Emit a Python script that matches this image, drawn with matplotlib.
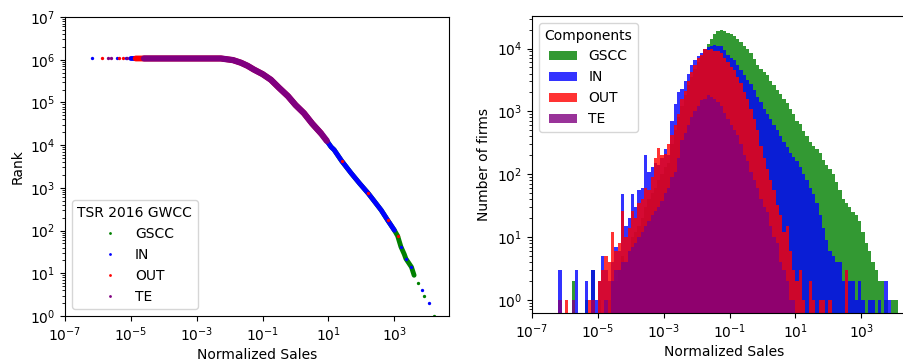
import numpy as np
import matplotlib
matplotlib.use('Agg')
import matplotlib.pyplot as plt
from matplotlib.lines import Line2D
from matplotlib.ticker import NullLocator

components = ['GSCC', 'IN', 'OUT', 'TE']
colors = ['green', 'blue', 'red', 'purple']

# --- rank plot (left) : connected runs and isolated points, per component
gscc_sales = [1e-4, 1e-3, 5.4e-3, 1.26e-2, 2.2e-2, 3.5e-2, 5.4e-2, 0.1, 0.178, 0.316, 0.59, 1.0, 1.8,
              3.2, 5.9, 8.9, 12, 14.8, 25, 49, 89, 162, 250, 400, 630, 1000, 1260, 1580, 2000, 2240, 3310, 3980]
gscc_rank = [1.07e6, 1.07e6, 1.07e6, 9.8e5, 8.5e5, 7.2e5, 5.9e5, 4.6e5, 3.4e5, 2.2e5, 1.4e5, 8.7e4, 5.6e4,
             3.2e4, 1.9e4, 1.26e4, 9.1e3, 7.8e3, 4.3e3, 2.2e3, 1.26e3, 740, 480, 300, 174, 102, 75, 42, 28, 22, 14, 9]
gscc_sales_pts = [5370, 8130, 15500]
gscc_rank_pts = [6, 3, 1]

in_sales = [1e-5, 1e-4, 1e-3, 5.4e-3, 1.26e-2, 2.2e-2, 3.5e-2, 5.4e-2, 0.1, 0.178, 0.316, 0.59, 1.0, 1.8,
            3.2, 5.9, 8.9, 12, 14.8, 25, 49, 89, 162, 250, 400, 630, 1000]
in_rank = [1.07e6, 1.07e6, 1.07e6, 1.07e6, 9.8e5, 8.5e5, 7.2e5, 5.9e5, 4.6e5, 3.4e5, 2.2e5, 1.4e5, 8.7e4, 5.6e4,
           3.2e4, 1.9e4, 1.26e4, 9.1e3, 7.8e3, 4.3e3, 2.2e3, 1.26e3, 740, 480, 300, 174, 102]
in_sales_pts = [6.6e-7, 3.8e-6, 7.1e-6, 1580, 2240, 3310, 7080, 11000]
in_rank_pts = [1.07e6, 1.07e6, 1.07e6, 42, 22, 14, 4, 2]

out_sales = [1.4e-5, 1e-4, 1e-3, 5.4e-3, 1.26e-2, 2.2e-2, 3.5e-2, 5.4e-2, 0.1, 0.178, 0.316, 0.59, 1.0,
             1.8, 3.2, 5.9]
out_rank = [1.07e6, 1.07e6, 1.07e6, 1.07e6, 9.8e5, 8.5e5, 7.2e5, 5.9e5, 4.6e5, 3.4e5, 2.2e5, 1.4e5, 8.7e4,
            5.6e4, 3.2e4, 1.9e4]
out_sales_pts = [1.35e-6, 4.5e-6, 5.6e-6, 25, 162, 630, 1260]
out_rank_pts = [1.07e6, 1.07e6, 1.07e6, 4.3e3, 740, 174, 75]

te_sales = [2.5e-5, 1e-4, 1e-3, 5.4e-3, 1.26e-2, 2.2e-2, 3.5e-2, 5.4e-2, 0.1, 0.178, 0.316, 0.59, 1.0,
            1.8, 3.2, 5.9, 8.9]
te_rank = [1.07e6, 1.07e6, 1.07e6, 1.07e6, 9.8e5, 8.5e5, 7.2e5, 5.9e5, 4.6e5, 3.4e5, 2.2e5, 1.4e5, 8.7e4,
           5.6e4, 3.2e4, 1.9e4, 1.26e4]
te_sales_pts = [2.0e-6, 2.5e-6, 7.9e-6]
te_rank_pts = [1.07e6, 1.07e6, 1.07e6]

# --- histograms (right): counts in log bins of 0.1 decade from 10^-6.5 to 10^4.5
gscc_counts = [0, 0, 0, 0, 0, 0, 0, 2, 0, 0,
               0, 1, 0, 3, 0, 1, 0, 0, 1, 2,
               2, 3, 5, 4, 6, 10, 12, 15, 20, 30,
               40, 50, 60, 80, 100, 130, 150, 300, 500, 800,
               1200, 1800, 2600, 3500, 4800, 6000, 7500, 9500, 12000, 14000,
               17000, 19000, 20000, 19000, 18000, 17000, 16000, 14000, 12500, 11000,
               10000, 8500, 6800, 5500, 4800, 4200, 3800, 3000, 2600, 2200,
               1900, 1600, 1350, 1100, 900, 700, 620, 480, 400, 330,
               280, 250, 220, 170, 140, 120, 100, 75, 55, 40,
               35, 30, 25, 22, 18, 12, 8, 6, 4, 3,
               2, 2, 1, 0, 1, 1, 0, 0, 0, 0]
in_counts = [0, 0, 0, 3, 0, 0, 0, 0, 3, 0,
             0, 2, 0, 3, 1, 2, 5, 3, 2, 4,
             7, 6, 48, 15, 20, 48, 30, 55, 60, 200,
             110, 130, 150, 140, 180, 250, 200, 700, 1300, 2000,
             2300, 3000, 4000, 5400, 6500, 7500, 8500, 10000, 10500, 11000,
             11500, 11000, 11000, 9500, 8000, 7200, 6500, 5500, 4600, 3800,
             3200, 2700, 2200, 1700, 1400, 1100, 900, 750, 600, 500,
             400, 320, 270, 220, 190, 160, 130, 100, 80, 60,
             48, 35, 22, 14, 9, 6, 5, 4, 4, 2,
             3, 2, 2, 1, 2, 1, 0, 1, 1, 0,
             1, 0, 2, 1, 0, 0, 0, 0, 0, 0]
out_counts = [0, 0, 0, 0, 0, 1, 0, 0, 0, 0,
              0, 0, 1, 1, 0, 2, 3, 5, 4, 12,
              6, 8, 26, 10, 14, 26, 20, 35, 40, 60,
              55, 90, 180, 260, 200, 210, 300, 420, 600, 900,
              1600, 2100, 3000, 4200, 5500, 7000, 8000, 10000, 9500, 9800,
              9000, 9200, 8500, 7000, 6000, 5000, 4500, 3500, 2800, 2000,
              1600, 1100, 750, 500, 280, 180, 120, 80, 55, 32,
              22, 12, 15, 6, 3, 2, 3, 1, 0, 2,
              1, 0, 1, 1, 0, 1, 0, 0, 0, 0,
              3, 0, 0, 0, 0, 0, 0, 0, 0, 0,
              0, 0, 0, 0, 0, 0, 0, 0, 0, 0]
te_counts = [0, 0, 0, 1, 0, 0, 0, 1, 0, 0,
             0, 0, 0, 1, 0, 0, 0, 1, 0, 2,
             3, 3, 4, 4, 6, 7, 8, 10, 12, 15,
             18, 22, 26, 30, 38, 50, 60, 90, 110, 180,
             350, 450, 600, 800, 1000, 1200, 1500, 1600, 1800, 1700,
             1600, 1400, 1200, 950, 750, 600, 500, 420, 300, 200,
             160, 110, 80, 60, 40, 30, 25, 15, 10, 8,
             4, 3, 2, 1, 1, 0, 0, 0, 0, 0,
             0, 0, 0, 0, 0, 0, 0, 0, 0, 0,
             0, 0, 0, 0, 0, 0, 0, 0, 0, 0,
             0, 0, 0, 0, 0, 0, 0, 0, 0, 0]

fig = plt.figure(figsize=(9.04, 3.62), dpi=100)
ax1 = fig.add_axes([0.0719, 0.127, 0.4248, 0.826])
ax2 = fig.add_axes([0.5885, 0.1354, 0.4248, 0.8204])

# left: rank vs sales
runs = [(gscc_sales, gscc_rank), (in_sales, in_rank), (out_sales, out_rank), (te_sales, te_rank)]
pts = [(gscc_sales_pts, gscc_rank_pts), (in_sales_pts, in_rank_pts),
       (out_sales_pts, out_rank_pts), (te_sales_pts, te_rank_pts)]
widths = [3.5, 3.5, 4.2, 4.5]
for (xs, ys), (px, py), c, w in zip(runs, pts, colors, widths):
    ax1.plot(xs, ys, '-', color=c, lw=w, solid_capstyle='round', solid_joinstyle='round')
    ax1.plot(px, py, 'o', color=c, ms=2.4, mec='none')

ax1.set_xscale('log')
ax1.set_yscale('log')
ax1.set_xlim(1e-7, 10 ** 4.66)
ax1.set_ylim(1, 1e7)
ax1.set_xticks([1e-7, 1e-5, 1e-3, 1e-1, 1e1, 1e3])
ax1.xaxis.set_minor_locator(NullLocator())
ax1.set_xlabel('Normalized Sales', labelpad=2.5)
ax1.set_ylabel('Rank')
handles = [Line2D([], [], ls='none', marker='o', ms=2, mec='none', color=c) for c in colors]
ax1.legend(handles, components, title='TSR 2016 GWCC', loc='lower left')

# right: histograms
edges = np.logspace(-6.5, 4.5, 111)
centers = np.sqrt(edges[:-1] * edges[1:])
for counts, name, c in zip([gscc_counts, in_counts, out_counts, te_counts], components, colors):
    ax2.hist(centers, bins=edges, weights=counts, color=c, alpha=0.8, label=name, log=True)

ax2.set_xscale('log')
ax2.set_xlim(1e-7, 10 ** 4.66)
ax2.set_ylim(0.615, 3.3e4)
ax2.set_xticks([1e-7, 1e-5, 1e-3, 1e-1, 1e1, 1e3])
ax2.xaxis.set_minor_locator(NullLocator())
ax2.set_xlabel('Normalized Sales', labelpad=2.5)
ax2.set_ylabel('Number of firms')
ax2.legend(title='Components', loc='upper left')

fig.savefig('out.png', dpi=100)
